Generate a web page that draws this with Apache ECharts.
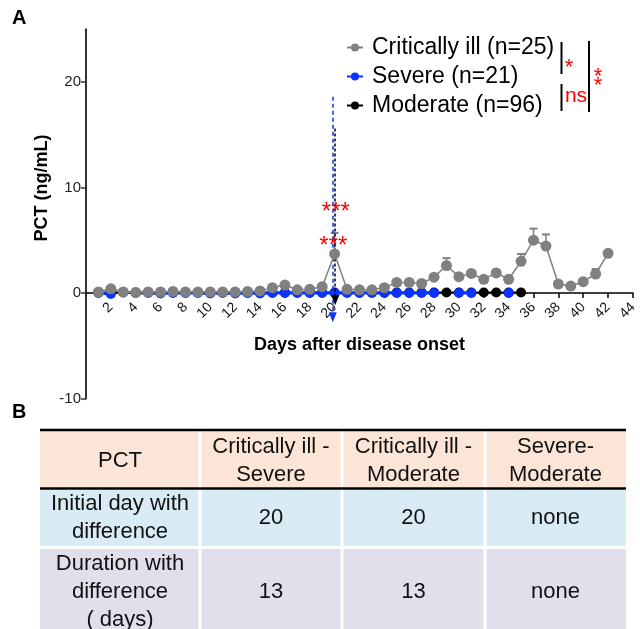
<!DOCTYPE html>
<html>
<head>
<meta charset="utf-8">
<script src="https://cdn.jsdelivr.net/npm/echarts@6/dist/echarts.min.js"></script>
<style>
html,body{margin:0;padding:0;background:#fff;}
#main{width:640px;height:629px;}
</style>
</head>
<body>
<div id="main"></div>
<script>
// ---------- data ----------
var days = [1,2,3,4,5,6,7,8,9,10,11,12,13,14,15,16,17,18,19,20,21,22,23,24,25,26,27,28,29,30,31,32,33,34,35,36,37,38,39,40,41,42];
var critIll = [0.1,0.4,0.1,0.05,0.1,0.1,0.15,0.1,0.1,0.1,0.1,0.1,0.15,0.2,0.5,0.75,0.3,0.35,0.6,3.7,0.35,0.3,0.3,0.5,1.0,1.0,0.9,1.5,2.6,1.55,1.85,1.3,1.9,1.3,3.0,5.0,4.45,0.85,0.66,1.07,1.8,3.76];
var critUpper = [null,null,null,null,null,null,null,null,null,null,null,null,null,null,null,null,null,null,null,5.7,null,null,null,null,null,null,null,null,3.3,null,null,null,null,null,3.7,6.1,5.55,null,null,null,2.27,null];
var severe = [0,-0.1,null,0,0,-0.05,0,0,0,-0.05,0,-0.05,0,-0.05,0,0,0,0,0,0,0,0,0,0,0,0,0,0,null,0,0,null,null,0];
var moderate = [0.05,0.05,0.05,0.05,0.05,0.05,0.05,0.05,0.05,0.05,0.05,0.05,0.05,0.05,0.05,0.05,0.05,0.05,0.05,0.05,0.05,0.05,0.05,0.05,0.05,0.05,0.05,0.05,0.05,0.05,0.05,0.05,0.05,0.05,0.05];
var seriesNames = ['Critically ill (n=25)','Severe (n=21)','Moderate (n=96)'];
var yTicks = [-10,0,10,20];
// annotation arrows (day, from value, to value)
var blueArrow = [19.85, 18.6, -2.3];
var blackArrow = [20.05, 15.6, -0.7];
var starMarks = [[20.1, 7.6],[19.9, 4.4]];

var tableHeader = ['PCT','Critically ill -\nSevere','Critically ill -\nModerate','Severe-\nModerate'];
var tableRowLabels = ['Initial day with\ndifference','Duration with\ndifference\n( days)'];
var tableValues = [['20','20','none'],['13','13','none']];

// ---------- build ----------
function pairs(xs, ys){ var out=[]; for(var i=0;i<ys.length;i++){ out.push([xs[i], ys[i]]); } return out; }
var errData = [];
for (var i=0;i<days.length;i++){ if (critUpper[i]!=null) errData.push([days[i], critIll[i], critUpper[i]]); }

var FONT = '"Liberation Sans", Arial, sans-serif';
var GRAY = '#808080', BLUE = '#0a33ff', BLACK = '#000000';

var GRID_TOP = 29.2, GRID_BOTTOM_PX = 398.5, Y_MIN = -10, Y_MAX = 25;
var zeroOffset = (GRID_BOTTOM_PX - GRID_TOP) * (0 - Y_MIN) / (Y_MAX - Y_MIN);

// table graphics
var colEdges = [40, 200, 342, 485, 626];
var rowEdges = [[431,487],[490,546],[549,640]];
var rowColors = ['#fbe5d6','#d9ebf4','#e2dfec'];
var rowCenters = [461, 518, 592];
var tableGraphic = [];
for (var r=0;r<3;r++){
  for (var c=0;c<4;c++){
    tableGraphic.push({type:'rect', shape:{x:colEdges[c]+(c>0?1.5:0), y:rowEdges[r][0], width:colEdges[c+1]-colEdges[c]-(c>0?1.5:0)-(c<3?1.5:0), height:rowEdges[r][1]-rowEdges[r][0]}, style:{fill:rowColors[r]}, silent:true});
    var txt = r===0 ? tableHeader[c] : (c===0 ? tableRowLabels[r-1] : tableValues[r-1][c-1]);
    tableGraphic.push({type:'text', x:(colEdges[c]+colEdges[c+1])/2, y:rowCenters[r], style:{text:txt, fill:'#111', font:'22px '+FONT, align:'center', verticalAlign:'middle', lineHeight:28}, silent:true});
  }
}
tableGraphic.push({type:'line', shape:{x1:40,y1:430,x2:626,y2:430}, style:{stroke:'#000', lineWidth:2.5}});
tableGraphic.push({type:'line', shape:{x1:40,y1:488.5,x2:626,y2:488.5}, style:{stroke:'#000', lineWidth:2.5}});

var otherGraphic = [
  {type:'text', x:12, y:8, style:{text:'A', font:'bold 20px '+FONT, fill:'#000'}},
  {type:'text', x:12, y:402, style:{text:'B', font:'bold 20px '+FONT, fill:'#000'}},
  {type:'text', x:42, y:188, rotation:Math.PI/2, style:{text:'PCT (ng/mL)', font:'bold 18px '+FONT, fill:'#000', align:'center', verticalAlign:'middle'}},
  // significance brackets
  {type:'line', shape:{x1:561.5,y1:42,x2:561.5,y2:74}, style:{stroke:'#000', lineWidth:2}},
  {type:'line', shape:{x1:561.5,y1:84,x2:561.5,y2:111}, style:{stroke:'#000', lineWidth:2}},
  {type:'line', shape:{x1:589,y1:41,x2:589,y2:112}, style:{stroke:'#000', lineWidth:2}},
  {type:'text', x:569, y:68, style:{text:'*', font:'22px '+FONT, fill:'#ff0000', align:'center', verticalAlign:'middle'}},
  {type:'text', x:576, y:96, style:{text:'ns', font:'21px '+FONT, fill:'#ff0000', align:'center', verticalAlign:'middle'}},
  {type:'text', x:598, y:77, style:{text:'*', font:'22px '+FONT, fill:'#ff0000', align:'center', verticalAlign:'middle'}},
  {type:'text', x:598, y:86, style:{text:'*', font:'22px '+FONT, fill:'#ff0000', align:'center', verticalAlign:'middle'}}
];

var chart = echarts.init(document.getElementById('main'), null, {renderer:'canvas'});
var option = {
  animation:false,
  backgroundColor:'#fff',
  textStyle:{fontFamily:FONT},
  grid:{left:86, right:4, top:GRID_TOP, bottom:629-GRID_BOTTOM_PX, containLabel:false},
  legend:{
    data:seriesNames, orient:'vertical', left:341, top:31, itemGap:6,
    itemWidth:16, itemHeight:10,
    textStyle:{fontSize:23, color:'#000', fontFamily:FONT, lineHeight:23, padding:[0,0,0,4]}
  },
  xAxis:{
    type:'value', min:0, max:44, interval:2,
    offset:-zeroOffset,
    axisLine:{onZero:false, lineStyle:{color:'#000', width:1.5}},
    axisTick:{show:true, length:5, lineStyle:{color:'#000', width:1.5}},
    axisLabel:{rotate:45, fontSize:14, color:'#111', margin:12, showMinLabel:false, fontFamily:FONT},
    splitLine:{show:false},
    name:'Days after disease onset', nameLocation:'middle', nameGap:43,
    nameTextStyle:{fontSize:18, fontWeight:'bold', color:'#000', fontFamily:FONT}
  },
  yAxis:{
    type:'value', min:Y_MIN, max:Y_MAX, interval:10,
    axisLine:{show:true, onZero:false, lineStyle:{color:'#333', width:2}},
    axisTick:{show:true, length:5, customValues:yTicks, lineStyle:{color:'#333', width:1.5}},
    axisLabel:{fontSize:15, color:'#222', margin:5, customValues:yTicks, fontFamily:FONT},
    splitLine:{show:false}
  },
  graphic: tableGraphic.concat(otherGraphic),
  series:[
    {
      name:seriesNames[2], type:'line', data:pairs(days, moderate), z:2,
      symbol:'circle', symbolSize:10, showAllSymbol:true,
      itemStyle:{color:BLACK}, lineStyle:{color:BLACK, width:2}
    },
    {
      name:seriesNames[1], type:'line', data:pairs(days, severe), z:3,
      symbol:'circle', symbolSize:10, showAllSymbol:true, connectNulls:false,
      itemStyle:{color:BLUE}, lineStyle:{color:BLUE, width:3}
    },
    {
      name:'err', type:'custom', z:4, data:errData,
      renderItem:function(params, api){
        var x = api.value(0), lo = api.value(1), hi = api.value(2);
        var p1 = api.coord([x, lo]), p2 = api.coord([x, hi]);
        return {type:'group', children:[
          {type:'line', shape:{x1:p1[0],y1:p1[1],x2:p2[0],y2:p2[1]}, style:{stroke:GRAY, lineWidth:1.5}},
          {type:'line', shape:{x1:p2[0]-4,y1:p2[1],x2:p2[0]+4,y2:p2[1]}, style:{stroke:GRAY, lineWidth:2}}
        ]};
      }
    },
    {
      name:seriesNames[0], type:'line', data:pairs(days, critIll), z:5,
      symbol:'circle', symbolSize:11, showAllSymbol:true,
      itemStyle:{color:GRAY}, lineStyle:{color:GRAY, width:1.5}
    },
    {
      name:'annot', type:'line', data:[], z:8,
      markLine:{
        silent:true, symbol:['none','triangle'], symbolSize:[8,10], label:{show:false},
        data:[
          [{coord:[blueArrow[0], blueArrow[1]], lineStyle:{color:BLUE, type:[4,3], width:1.5}, symbol:'none'},
           {coord:[blueArrow[0], blueArrow[2]], itemStyle:{color:BLUE}}],
          [{coord:[blackArrow[0], blackArrow[1]], lineStyle:{color:BLACK, type:[3,2], width:1.5}, symbol:'none'},
           {coord:[blackArrow[0], blackArrow[2]], itemStyle:{color:BLACK}}]
        ]
      },
      markPoint:{
        silent:true, symbol:'circle', symbolSize:1, itemStyle:{color:'rgba(0,0,0,0)'},
        label:{show:true, formatter:'***', color:'#ff0000', fontSize:24, position:'inside', fontFamily:FONT},
        data:[{coord:starMarks[0]},{coord:starMarks[1]}]
      }
    }
  ]
};
chart.setOption(option);
</script>
</body>
</html>
